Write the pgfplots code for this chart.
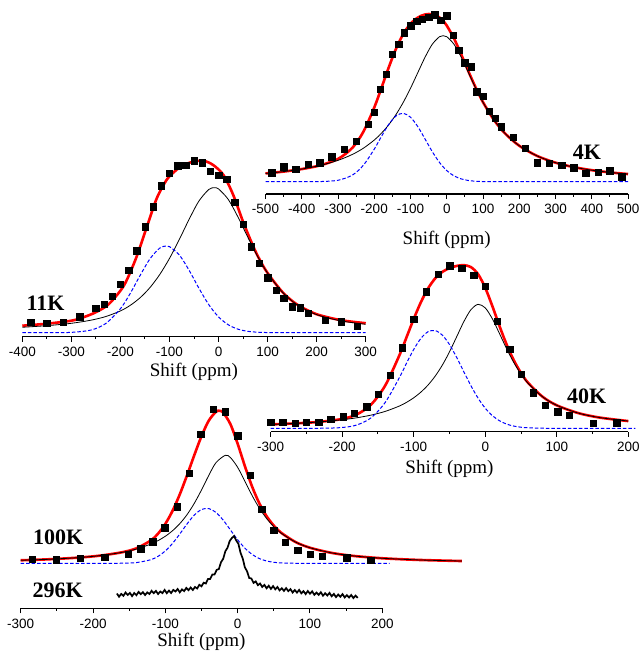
\documentclass[border=0pt]{standalone}
\usepackage{fontspec}
\setmainfont{Liberation Serif}
\newfontfamily\arialfont{Liberation Sans}
\usepackage{pgfplots}
\pgfplotsset{compat=1.18}
\newcommand\tickf{\arialfont\fontsize{13.5}{13.5}\selectfont}
\newcommand\labf{\fontsize{19}{19}\selectfont}
\newcommand\tagf{\bfseries\fontsize{22}{22}\selectfont}
\pgfplotsset{
  panel/.style={
    scale only axis, anchor=south west,
    axis x line=bottom, axis y line=none,
    x axis line style={-, line width=1.1pt},
    enlargelimits=false, clip=false,
    tick align=outside, major tick length=5pt, minor tick length=2.5pt,
    tick style={black, line width=1pt},
    xticklabel style={font=\tickf, yshift=-2pt},
    xlabel={Shift (ppm)},
  },
  dat/.style={only marks, mark=square*, mark size=3.2pt, black},
  fitr/.style={red, line width=2.6pt, smooth, no marks},
  fitk/.style={black, line width=0.8pt, smooth, no marks},
  fitb/.style={blue, line width=1pt, dash pattern=on 3.5pt off 2pt, smooth, no marks},
}
\begin{document}
\begin{tikzpicture}
\useasboundingbox (0pt,0pt) rectangle (639pt,-652pt);

% ---------------- 4K ----------------
\begin{axis}[panel, at={(265.5pt,-194pt)}, width=362.5pt, height=194pt,
  xmin=-500, xmax=500, ymin=-12.3, ymax=181.7,
  xtick={-500,-400,...,500}, minor xtick={-450,-350,...,450},
  xticklabels={-500,-400,-300,-200,-100,0,100,200,300,400,500},
  xlabel style={font=\labf, at={(axis description cs:0.5,0)}, anchor=base, yshift=-50.3pt}]
\addplot[dat] coordinates {(-483,9) (-450,15) (-417,12.3) (-383,17.3) (-350,19) (-317,25) (-283,32.3) (-250,40.7) (-217,57.7) (-200,69.3) (-183,92.7) (-167,107.7) (-150,127.7) (-133,137.7) (-117,149) (-100,156) (-83,160.3) (-67,162.3) (-50,164.3) (-33,167) (-17,161.7) (0,166) (17,146.7) (33,131.7) (50,119) (67,115) (83,90) (100,85.7) (117,70.7) (133,63.3) (150,55) (183,44.3) (217,33.3) (250,19) (283,18.3) (317,16.7) (350,14) (383,8.3) (417,9.3) (450,11) (483,5)};
\addplot[fitr] coordinates {(-500,8.26) (-450,10.11) (-400,12.64) (-350,16.29) (-300,22.78) (-260,34.03) (-230,49.96) (-200,74.18) (-180,93.91) (-160,114.33) (-140,132.91) (-120,147.75) (-100,157.92) (-80,164.11) (-60,167.19) (-40,167.5) (-20,164.21) (-10,160.8) (0,156.11) (20,143.24) (40,127.18) (60,110.16) (80,93.91) (100,79.52) (130,61.84) (160,48.55) (200,35.94) (250,25.64) (300,19.03) (350,14.6) (400,11.52) (450,9.30) (500,7.66)};
\addplot[fitk] coordinates {(-500,8.26) (-450,10.11) (-400,12.63) (-350,16.17) (-300,21.35) (-260,27.34) (-230,33.49) (-200,41.63) (-180,48.55) (-160,56.98) (-140,67.16) (-120,79.35) (-100,93.44) (-80,108.96) (-60,124.4) (-40,137.4) (-20,145.0) (-10,146) (0,145.0) (20,137.4) (40,124.4) (60,108.96) (80,93.44) (100,79.35) (130,61.84) (160,48.55) (200,35.94) (250,25.64) (300,19.03) (350,14.6) (400,11.52) (450,9.30) (500,7.66)};
\addplot[fitb] coordinates {(-500,0) (-400,0.01) (-350,0.12) (-300,1.43) (-260,6.69) (-230,16.47) (-200,32.55) (-180,45.36) (-160,57.35) (-140,65.75) (-120,68.4) (-100,64.48) (-80,55.15) (-60,42.79) (-40,30.10) (-20,19.21) (0,11.11) (20,5.84) (40,2.78) (60,1.20) (80,0.47) (100,0.17) (150,0) (500,0)};
\end{axis}

% ---------------- 11K ----------------
\begin{axis}[panel, at={(22.3pt,-336.7pt)}, width=343.4pt, height=200pt,
  xmin=-400, xmax=300, ymin=-4, ymax=196,
  xtick={-400,-300,...,300}, minor xtick={-350,-250,...,250},
  xticklabels={-400,-300,-200,-100,0,100,200,300},
  xlabel style={font=\labf, at={(axis description cs:0.5,0)}, anchor=base, yshift=-39.5pt}]
\addplot[dat] coordinates {(-383,10.3) (-350,9.3) (-317,10.3) (-283,16) (-250,24.3) (-233,28.3) (-217,36.7) (-200,48.3) (-183,62.7) (-167,82) (-150,106) (-133,126) (-117,147) (-100,159.3) (-83,167) (-67,167.7) (-50,172) (-33,170) (-17,161.7) (0,157.7) (17,153.3) (33,130.3) (50,108.3) (67,86) (83,69.3) (100,55) (117,42.7) (133,34.3) (150,26) (167,25) (183,19.3) (217,12.7) (250,11) (283,6.7)};
\addplot[fitr] coordinates {(-400,7) (-350,9) (-300,12) (-275,15.5) (-250,20.5) (-225,28) (-200,42) (-187,52.7) (-167,76) (-146,106) (-126,134.3) (-106,152.7) (-90,161) (-79,165.3) (-65,169) (-51,171) (-31,172) (-11,167.7) (10,157.7) (30,137.7) (50,111) (71,86) (85,72) (100,59.7) (130,40.8) (160,28.2) (200,18.5) (250,12.5) (300,9.5)};
\addplot[fitk] coordinates {(-400,5.43) (-350,7.03) (-300,9.41) (-260,12.53) (-230,16.14) (-200,21.78) (-180,27.35) (-160,34.92) (-140,45.0) (-120,58.07) (-100,74.25) (-80,93.18) (-60,113.36) (-40,131.63) (-20,143.17) (-9,145) (0,143.77) (20,133.17) (40,115.33) (60,95.16) (80,76.04) (100,59.57) (130,40.63) (160,28.0) (200,18.1) (250,11.79) (300,8.43)};
\addplot[fitb] coordinates {(-400,0) (-350,0.01) (-300,0.34) (-260,2.67) (-230,9.15) (-200,23.97) (-180,39.27) (-160,57.11) (-140,73.74) (-120,84.55) (-107,86.7) (-100,86.07) (-80,77.8) (-60,62.43) (-40,44.49) (-20,28.15) (0,15.81) (20,7.89) (40,3.49) (60,1.37) (80,0.48) (100,0.15) (130,0) (300,0)};
\end{axis}

% ---------------- 40K ----------------
\begin{axis}[panel, at={(270.7pt,-431.7pt)}, width=357.6pt, height=190pt,
  xmin=-300, xmax=200, ymin=-3.4, ymax=186.6,
  xtick={-300,-200,...,200}, minor xtick={-250,-150,...,150},
  xticklabels={-300,-200,-100,0,100,200},
  xlabel style={font=\labf, at={(axis description cs:0.5,0)}, anchor=base, yshift=-42pt}]
\addplot[dat] coordinates {(-300,6) (-283,6) (-266,5) (-250,6) (-233,6) (-216,9) (-199,11.7) (-183,15) (-166,21.7) (-150,34) (-133,53.3) (-116,80.7) (-100,109.3) (-83,136.7) (-66,154) (-50,162.7) (-33,160) (-16,153.3) (0,142.3) (17,107.3) (34,79) (50,54) (67,35.7) (84,23.3) (101,16.7) (117,13.3) (151,5) (184,5.7)};
\addplot[fitr] coordinates {(-300,3.84) (-260,5.11) (-230,6.56) (-200,9.36) (-180,13.75) (-160,23.46) (-140,42.66) (-120,73.11) (-110,91.20) (-100,109.42) (-90,126.11) (-80,139.87) (-70,149.93) (-60,156.40) (-50,160.19) (-40,162.37) (-30,163.15) (-20,161.19) (-10,154.05) (0,140.47) (10,122.02) (20,102.06) (30,83.54) (40,67.88) (50,55.31) (60,45.42) (80,31.65) (100,22.98) (130,15.22) (160,10.73) (200,7.23)};
\addplot[fitk] coordinates {(-300,3.84) (-260,5.11) (-230,6.50) (-200,8.55) (-180,10.50) (-160,13.14) (-140,16.88) (-120,22.31) (-110,25.98) (-100,30.52) (-90,36.19) (-80,43.29) (-70,52.19) (-60,63.20) (-50,76.46) (-40,91.49) (-30,106.61) (-20,118.69) (-10,123.95) (0,120.39) (10,109.39) (20,94.58) (30,79.36) (40,65.68) (50,54.22) (60,44.91) (80,31.56) (100,22.98) (130,15.22) (160,10.73) (200,7.23)};
\addplot[fitb] coordinates {(-300,0) (-230,0.06) (-200,0.81) (-180,3.25) (-160,10.32) (-140,25.78) (-120,50.80) (-110,65.22) (-100,78.90) (-90,89.92) (-80,96.58) (-70,97.74) (-60,93.2) (-50,83.73) (-40,70.88) (-30,56.54) (-20,42.5) (-10,30.10) (0,20.08) (10,12.63) (20,7.48) (30,4.18) (40,2.20) (50,1.09) (60,0.51) (80,0.09) (100,0) (210,0)};
\end{axis}

% ---------------- 100K and 296K ----------------
\begin{axis}[panel, at={(20.7pt,-608.3pt)}, width=361.6pt, height=208.3pt,
  xmin=-300, xmax=200, ymin=-45, ymax=163.3,
  xtick={-300,-200,...,200}, minor xtick={-250,-150,...,150},
  xticklabels={-300,-200,-100,0,100,200},
  xlabel style={font=\labf, at={(axis description cs:0.5,0)}, anchor=base, yshift=-38pt}]
\addplot[dat] coordinates {(-284,4.3) (-251,3.7) (-217.5,5) (-184,6) (-151,9.3) (-134,14.7) (-117.5,21.7) (-101,35.7) (-84,56.7) (-67,90) (-51,129) (-34,154) (-17,151.7) (0,127.7) (17,88.3) (33,54.3) (50,33.3) (66,21) (83,13.3) (100,9.3) (117,7.3) (151,5.7) (184,3.3)};
\addplot[fitr] coordinates {(-300,3.02) (-260,4.06) (-220,5.72) (-190,7.72) (-160,11.04) (-140,15.0) (-120,22.89) (-110,29.72) (-100,39.45) (-90,52.55) (-80,69.0) (-70,88.02) (-60,108.08) (-50,127.12) (-40,142.6) (-30,151.51) (-25,152.5) (-20,150.72) (-10,139.11) (0,119.5) (10,97.18) (20,76.64) (30,59.9) (40,47.14) (50,37.67) (60,30.65) (80,21.29) (100,15.56) (130,10.41) (160,7.40) (200,5.04) (250,3.38) (310,2.28)};
\addplot[fitk] coordinates {(-300,3.02) (-260,4.06) (-220,5.72) (-190,7.72) (-160,10.94) (-140,14.27) (-120,19.27) (-110,22.72) (-100,27.07) (-90,32.6) (-80,39.66) (-70,48.67) (-60,59.92) (-50,73.34) (-40,87.83) (-30,100.62) (-17,108) (-10,105.75) (0,95.97) (10,82.04) (20,67.75) (30,55.14) (40,44.81) (50,36.63) (60,30.23) (80,21.24) (100,15.56) (130,10.41) (160,7.40) (200,5.04) (250,3.38) (310,2.28)};
\addplot[fitb] coordinates {(-300,0) (-180,0) (-160,0.10) (-140,0.73) (-120,3.62) (-110,7.0) (-100,12.38) (-90,19.95) (-80,29.34) (-70,39.35) (-60,48.16) (-50,53.78) (-40,54.77) (-30,50.89) (-20,43.14) (-10,33.36) (0,23.53) (10,15.14) (20,8.89) (30,4.76) (40,2.33) (50,1.04) (60,0.42) (80,0.05) (100,0) (210,0)};
% 296K spectrum (offset below the 100K baseline)
\addplot[black, line width=1.7pt, no marks] coordinates {(-167,-30.2) (-164,-33.4) (-161,-30.6) (-158,-32.5) (-155,-29.2) (-152,-31.6) (-149,-29.6) (-146,-32.8) (-143,-29.7) (-140,-31.9) (-137,-28.6) (-134,-30.9) (-131,-28.9) (-128,-31.7) (-125,-29.1) (-122,-30.7) (-119,-27.5) (-116,-29.9) (-113,-27.6) (-110,-30.7) (-107,-28.2) (-104,-29.8) (-101,-26.6) (-98,-29.9) (-95,-27.3) (-92,-29.7) (-89,-26.6) (-86,-28.2) (-83,-25.7) (-80,-29.0) (-77,-26.1) (-74,-27.8) (-71,-24.6) (-68,-26.9) (-65,-24.2) (-62,-26.7) (-59,-23.7) (-56,-25.2) (-53,-21.5) (-50,-23.0) (-47,-19.4) (-44,-20.2) (-41,-15.6) (-38,-15.6) (-35,-11.2) (-32,-11.2) (-29,-6.6) (-26,-5.7) (-23,1.1) (-20,4.5) (-17,12.1) (-14,15.6) (-11,22.3) (-8,25.3) (-5,27.3) (-2,22.8) (1,19.6) (4,10.5) (7,4.8) (10,-4.1) (13,-8.0) (16,-14.7) (19,-15.2) (22,-19.6) (25,-18.1) (28,-21.9) (31,-20.2) (34,-23.7) (37,-21.6) (40,-25.0) (43,-22.4) (46,-25.6) (49,-22.8) (52,-26.0) (55,-23.7) (58,-27.1) (61,-24.9) (64,-27.6) (67,-24.8) (70,-27.8) (73,-25.8) (76,-29.2) (79,-26.7) (82,-29.3) (85,-26.6) (88,-30.0) (91,-27.9) (94,-30.8) (97,-27.7) (100,-30.4) (103,-28.0) (106,-31.5) (109,-29.3) (112,-31.6) (115,-28.9) (118,-32.4) (121,-29.9) (124,-32.2) (127,-29.6) (130,-33.0) (133,-30.6) (136,-33.8) (139,-31.2) (142,-33.5) (145,-30.8) (148,-34.1) (151,-31.8) (154,-34.2) (157,-31.7) (160,-34.8) (163,-32.3) (166,-34.6)};
\end{axis}

% temperature tags
\node[font=\tagf] at (587pt,-152pt) {4K};
\node[font=\tagf] at (45.5pt,-303.3pt) {11K};
\node[font=\tagf] at (586.7pt,-396pt) {40K};
\node[font=\tagf] at (58.3pt,-537.5pt) {100K};
\node[font=\tagf] at (57.7pt,-590.5pt) {296K};
\end{tikzpicture}
\end{document}
